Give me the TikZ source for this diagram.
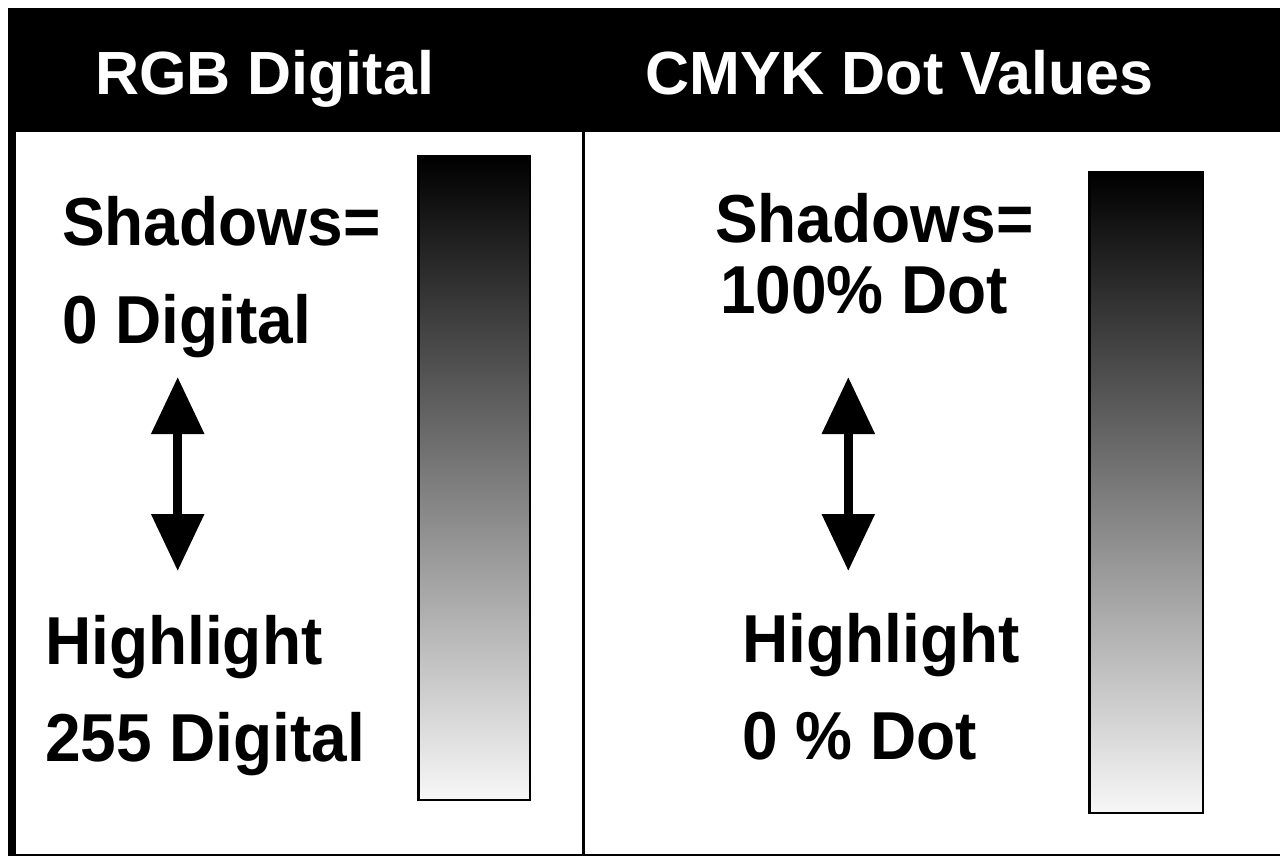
\documentclass[tikz,border=0pt]{standalone}
\usepackage{fontspec}
\setmainfont{Liberation Sans}
\usetikzlibrary{arrows.meta}
\newcommand{\bodytext}[1]{\scalebox{1}[1.06]{#1}}
\begin{document}
\begin{tikzpicture}[x=1pt,y=-1pt,
  headtext/.style={text=white,font=\fontsize{61}{61}\selectfont\bfseries,inner sep=0pt,anchor=base west},
  bodylabel/.style={text=black,font=\fontsize{64}{64}\selectfont\bfseries,inner sep=0pt,anchor=base west},
  gradbar/.style={draw=black,line width=2.5pt,top color=black,bottom color=white!97!black,inner sep=0pt,anchor=north west},
  dblarrow/.style={line width=9pt,{Triangle[width=51pt,length=57pt]}-{Triangle[width=51pt,length=57pt]}}
]
\useasboundingbox (0,0) rectangle (1280,856);
\fill[white] (0,0) rectangle (1280,856);
% header bar
\fill[black] (8,8) rectangle (1280,132);
% frame lines
\fill[black] (8,132) rectangle (16,856);
\fill[black] (8,853.5) rectangle (1280,855.5);
\fill[black] (582,132) rectangle (585,856);
% header texts
\node[headtext] (h1) at (95,95) {RGB Digital};
\node[headtext] (h2) at (645,95) {CMYK Dot Values};
% gradient bars
\node[gradbar,minimum width=111.5pt,minimum height=643.5pt] (bar1) at (417.25,155.25) {};
\node[gradbar,minimum width=113.5pt,minimum height=640.5pt] (bar2) at (1088.25,171.25) {};
% left texts
\node[bodylabel] (l1) at (62,245) {\bodytext{Shadows=}};
\node[bodylabel] (l2) at (62,343) {\bodytext{0 Digital}};
\node[bodylabel] (l3) at (45,664) {\bodytext{Highlight}};
\node[bodylabel] (l4) at (45,761) {\bodytext{255 Digital}};
% right texts
\node[bodylabel] (r1) at (715,242) {\bodytext{Shadows=}};
\node[bodylabel] (r2) at (720,313) {\bodytext{100\% Dot}};
\node[bodylabel] (r3) at (742,662) {\bodytext{Highlight}};
\node[bodylabel] (r4) at (742,759) {\bodytext{0 \% Dot}};
% arrows
\coordinate (la1) at (177.7,377);
\coordinate (la2) at (177.7,571);
\coordinate (ra1) at (848.3,377);
\coordinate (ra2) at (848.3,571);
\draw[dblarrow] (la1) -- (la2);
\draw[dblarrow] (ra1) -- (ra2);
\end{tikzpicture}
\end{document}
